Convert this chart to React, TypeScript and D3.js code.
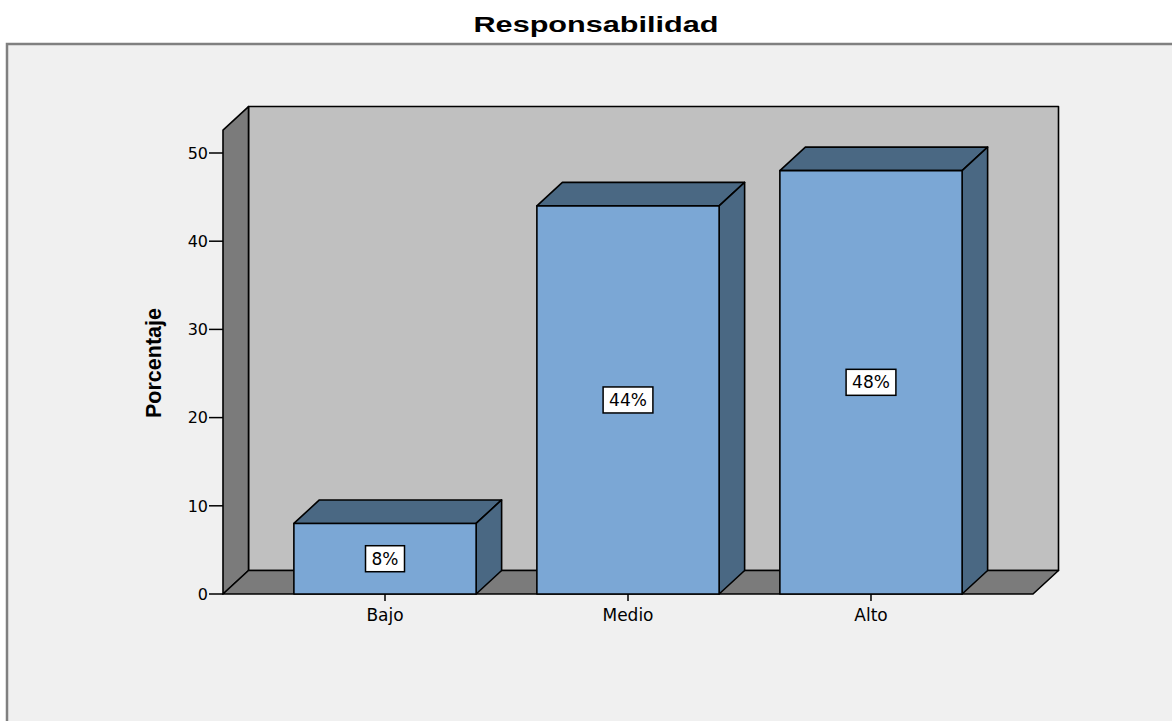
import React, { useEffect, useRef } from 'react';
import * as d3 from 'd3';

const categories = ['Bajo', 'Medio', 'Alto'];
const percentages = [8, 44, 48];
const barLabels = ['8%', '44%', '48%'];
const yTicks = [0, 10, 20, 30, 40, 50];
const yWallTop = 52.6;

const App = () => {
	const ref = useRef<SVGSVGElement | null>(null);

	useEffect(() => {
		const svg = d3.select(ref.current);
		svg.selectAll('*').remove();

		const width = 1172;
		const height = 721;
		const x0 = 223;
		const x1 = 1033;
		const dx = 25.5;
		const dy = 23.5;
		const front = '#7BA7D5';
		const dark = '#4A6883';
		const sans = 'Liberation Sans, Arial, sans-serif';
		const tickFont = 'DejaVu Sans, sans-serif';

		const x = d3.scaleBand().domain(categories).range([x0, x1]).paddingInner(0.25).paddingOuter(0.2917);
		const y = d3.scaleLinear().domain([0, 50]).range([594, 153]);
		const yb = y(0);
		const yt = y(yWallTop);

		svg.append('rect').attr('width', width).attr('height', height).attr('fill', '#ffffff');
		svg.append('rect')
			.attr('x', 7).attr('y', 44)
			.attr('width', width + 20).attr('height', height)
			.attr('fill', '#F0F0F0').attr('stroke', '#808080').attr('stroke-width', 2.5);

		svg.append('text')
			.text('Responsabilidad')
			.attr('x', 596).attr('y', 32)
			.attr('text-anchor', 'middle')
			.attr('font-family', sans).attr('font-weight', 'bold').attr('font-size', 22)
			.attr('textLength', 245).attr('lengthAdjust', 'spacingAndGlyphs');

		const line = (pts: number[][]) => 'M' + pts.map((p) => p.join(',')).join('L') + 'Z';
		const g = svg.append('g').attr('stroke', '#000').attr('stroke-width', 1.6).attr('stroke-linejoin', 'round');

		// back wall, left wall, floor
		g.append('path').attr('fill', '#C0C0C0')
			.attr('d', line([[x0 + dx, yt - dy], [x1 + dx, yt - dy], [x1 + dx, yb - dy], [x0 + dx, yb - dy]]));
		g.append('path').attr('fill', '#7B7B7B')
			.attr('d', line([[x0, yt], [x0 + dx, yt - dy], [x0 + dx, yb - dy], [x0, yb]]));
		g.append('path').attr('fill', '#7B7B7B')
			.attr('d', line([[x0, yb], [x0 + dx, yb - dy], [x1 + dx, yb - dy], [x1, yb]]));

		// y axis
		const ax = svg.append('g');
		ax.selectAll('line')
			.data(yTicks)
			.enter()
			.append('line')
			.attr('x1', x0 - 14).attr('x2', x0)
			.attr('y1', (d) => y(d)).attr('y2', (d) => y(d))
			.attr('stroke', '#000').attr('stroke-width', 1.5);
		ax.selectAll('text')
			.data(yTicks)
			.enter()
			.append('text')
			.text((d) => d)
			.attr('x', x0 - 15).attr('y', (d) => y(d))
			.attr('dy', '0.36em')
			.attr('text-anchor', 'end')
			.attr('font-family', tickFont).attr('font-size', 16);

		svg.append('text')
			.text('Porcentaje')
			.attr('transform', 'translate(161,363) rotate(-90)')
			.attr('text-anchor', 'middle')
			.attr('font-family', sans).attr('font-weight', 'bold').attr('font-size', 22)
			.attr('textLength', 110).attr('lengthAdjust', 'spacingAndGlyphs');

		// bars
		const bw = x.bandwidth();
		categories.forEach((c, i) => {
			const bx = x(c) as number;
			const by = y(percentages[i]);
			g.append('path').attr('fill', dark)
				.attr('d', line([[bx, by], [bx + dx, by - dy], [bx + bw + dx, by - dy], [bx + bw, by]]));
			g.append('path').attr('fill', dark)
				.attr('d', line([[bx + bw, by], [bx + bw + dx, by - dy], [bx + bw + dx, yb - dy], [bx + bw, yb]]));
			g.append('rect').attr('fill', front)
				.attr('x', bx).attr('y', by).attr('width', bw).attr('height', yb - by);
		});

		// x ticks and labels
		const xa = svg.append('g');
		xa.selectAll('line')
			.data(categories)
			.enter()
			.append('line')
			.attr('x1', (d) => (x(d) as number) + bw / 2).attr('x2', (d) => (x(d) as number) + bw / 2)
			.attr('y1', yb).attr('y2', yb + 7)
			.attr('stroke', '#000').attr('stroke-width', 1.5);
		xa.selectAll('text')
			.data(categories)
			.enter()
			.append('text')
			.text((d) => d)
			.attr('x', (d) => (x(d) as number) + bw / 2)
			.attr('y', yb + 27)
			.attr('text-anchor', 'middle')
			.attr('font-family', tickFont).attr('font-size', 17);

		// value labels
		const lab = svg.append('g');
		categories.forEach((c, i) => {
			const cx = (x(c) as number) + bw / 2;
			const cy = (y(percentages[i]) + yb) / 2;
			const t = lab.append('text')
				.text(barLabels[i])
				.attr('x', cx).attr('y', cy)
				.attr('dy', '0.36em')
				.attr('text-anchor', 'middle')
				.attr('font-family', tickFont).attr('font-size', 17);
			const tw = (t.node() as SVGTextElement).getComputedTextLength();
			lab.insert('rect', 'text')
				.attr('x', cx - tw / 2 - 6).attr('y', cy - 13)
				.attr('width', tw + 12).attr('height', 26)
				.attr('fill', '#fff').attr('stroke', '#000').attr('stroke-width', 1.5);
		});
	});

	return (
		<svg ref={ref} width={1172} height={721} style={{ position: 'absolute', left: 0, top: 0 }} />
	);
};

export default App;
